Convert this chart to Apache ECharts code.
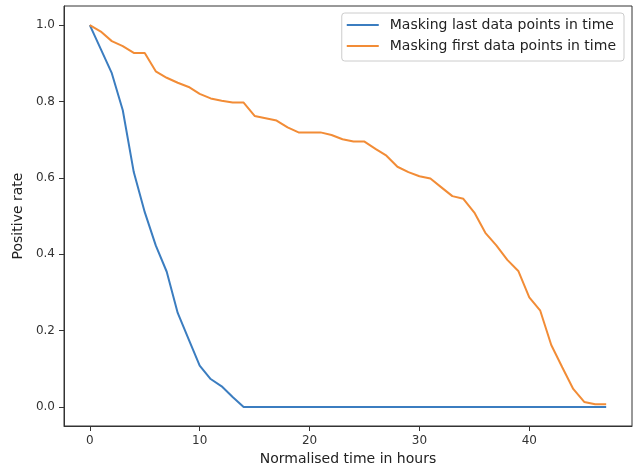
<!DOCTYPE html>
<html>
<head>
<meta charset="utf-8">
<script src="https://cdn.jsdelivr.net/npm/echarts@6/dist/echarts.min.js"></script>
<style>
html,body{margin:0;padding:0;background:#fff;}
#chart{width:633px;height:471px;}
</style>
</head>
<body>
<div id="chart"></div>
<script>
var seriesNames = ['Masking last data points in time', 'Masking first data points in time'];
var maskLast = [1.0, 0.937, 0.874, 0.777, 0.615, 0.51, 0.423, 0.354, 0.246, 0.177,
    0.108, 0.073, 0.054, 0.026, 0, 0, 0, 0, 0, 0,
    0, 0, 0, 0, 0, 0, 0, 0, 0, 0,
    0, 0, 0, 0, 0, 0, 0, 0, 0, 0,
    0, 0, 0, 0, 0, 0, 0, 0];
var maskFirst = [1.0, 0.983, 0.958, 0.945, 0.927, 0.927, 0.879, 0.862, 0.849, 0.838,
    0.82, 0.808, 0.802, 0.797, 0.797, 0.762, 0.756, 0.75, 0.732, 0.719,
    0.719, 0.719, 0.712, 0.701, 0.695, 0.695, 0.676, 0.658, 0.629, 0.615,
    0.604, 0.598, 0.575, 0.552, 0.545, 0.509, 0.456, 0.423, 0.385, 0.356,
    0.287, 0.252, 0.162, 0.104, 0.047, 0.013, 0.007, 0.007];
var xTicks = [0, 10, 20, 30, 40];
var yTicks = [0, 0.2, 0.4, 0.6, 0.8, 1.0];

function pairs(arr) {
    return arr.map(function (v, i) { return [i, v]; });
}

var myChart = echarts.init(document.getElementById('chart'));
var font = 'DejaVu Sans';

var option = {
    animation: false,
    backgroundColor: '#fff',
    grid: {
        left: 64, right: 1, top: 6, bottom: 42,
        show: true, borderColor: '#333', borderWidth: 1
    },
    legend: {
        data: seriesNames,
        orient: 'vertical',
        right: 9,
        top: 13,
        padding: [5, 8, 8, 5],
        itemGap: 7,
        itemWidth: 32,
        itemHeight: 2,
        icon: 'rect',
        borderColor: '#ccc',
        borderWidth: 1,
        borderRadius: 3,
        backgroundColor: 'rgba(255,255,255,0.8)',
        textStyle: {fontFamily: font, fontSize: 14, color: '#222', padding: [0, 0, 0, 6]}
    },
    xAxis: {
        type: 'value',
        min: -2.35,
        max: 49.35,
        name: 'Normalised time in hours',
        nameLocation: 'middle',
        nameGap: 26,
        nameTextStyle: {fontFamily: font, fontSize: 14, color: '#222'},
        axisLine: {show: true, onZero: false, lineStyle: {color: '#333'}},
        axisTick: {show: true, length: 5, customValues: xTicks, lineStyle: {color: '#333'}},
        axisLabel: {customValues: xTicks, fontFamily: font, fontSize: 12, color: '#333', margin: 9},
        splitLine: {show: false}
    },
    yAxis: {
        type: 'value',
        min: -0.05,
        max: 1.05,
        name: 'Positive rate',
        nameLocation: 'middle',
        nameGap: 33,
        nameTextStyle: {fontFamily: font, fontSize: 14, color: '#222'},
        axisLine: {show: true, onZero: false, lineStyle: {color: '#333'}},
        axisTick: {show: true, length: 5, customValues: yTicks, lineStyle: {color: '#333'}},
        axisLabel: {
            customValues: yTicks, fontFamily: font, fontSize: 12, color: '#333', margin: 9,
            formatter: function (v) { return v.toFixed(1); }
        },
        splitLine: {show: false}
    },
    series: [{
        name: seriesNames[0],
        type: 'line',
        data: pairs(maskLast),
        showSymbol: false,
        color: '#3b7dc0',
        lineStyle: {width: 2, color: '#3b7dc0'}
    }, {
        name: seriesNames[1],
        type: 'line',
        data: pairs(maskFirst),
        showSymbol: false,
        color: '#f28c36',
        lineStyle: {width: 2, color: '#f28c36'}
    }]
};

myChart.setOption(option);
</script>
</body>
</html>
